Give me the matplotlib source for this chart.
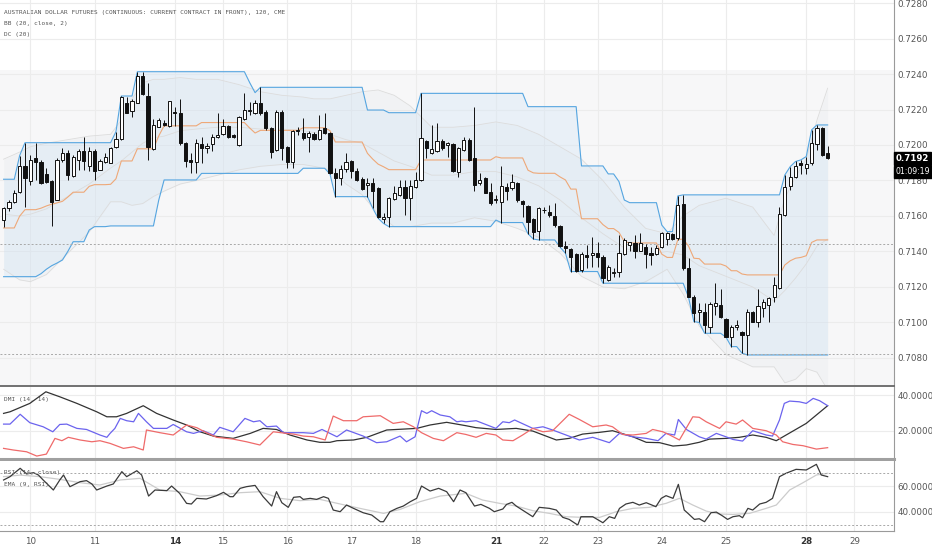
import numpy as np
import matplotlib
matplotlib.use("Agg")
import matplotlib.pyplot as plt
from matplotlib.ticker import FormatStrFormatter
import matplotlib.transforms as mtransforms

# ---- candles (120 min bars) ----
opens = [.71578, .71643, .71681, .71737, .71882, .71799, .71925, .71906, .71837, .71797,
         .71690, .71916, .71957, .71825, .71916, .71968, .71882, .71968, .71859, .71906,
         .71901, .71991, .72032, .72239, .72194, .72235, .72389, .72276, .71976, .72103,
         .72126, .72107, .72188, .72182, .72013, .71916, .71906, .72006, .71981, .72006,
         .72043, .72062, .72107, .72055, .72000, .72145, .72194, .72179, .72239, .72188,
         .72094, .71972, .72188, .71987, .71906, .72081, .72066, .72043, .72062, .72032,
         .72094, .72066, .71840, .71812, .71863, .71912, .71855, .71806, .71774, .71784,
         .71756, .71581, .71592, .71694, .71718, .71765, .71699, .71761, .71803, .72024,
         .71953, .71968, .72024, .72000, .72005, .71850, .71972, .72028, .71925, .71784,
         .71812, .71737, .71690, .71681, .71765, .71756, .71784, .71685, .71656, .71581,
         .71518, .71634, .71625, .71600, .71544, .71431, .71412, .71386, .71296, .71382,
         .71382, .71390, .71371, .71240, .71278, .71287, .71386, .71437, .71450, .71405,
         .71424, .71394, .71386, .71428, .71469, .71499, .71475, .71668, .71306, .71146,
         .71061, .71061, .70977, .71090, .71099, .71019, .70917, .70977, .70945, .70930,
         .71058, .71005, .71080, .71099, .71146, .71193, .71606, .71769, .71822, .71897,
         .71869, .71897, .72006, .72094, .71954]
highs = [.71653, .71690, .71745, .71940, .72013, .71944, .72010, .71916, .71869, .71803,
         .71925, .71981, .71972, .71944, .71976, .72043, .71991, .71976, .71919, .71953,
         .71987, .72075, .72276, .72272, .72257, .72413, .72413, .72351, .72145, .72150,
         .72141, .72250, .72212, .72257, .72019, .71953, .72032, .72043, .72010, .72062,
         .72179, .72145, .72113, .72062, .72163, .72295, .72244, .72254, .72325, .72197,
         .72103, .72197, .72197, .71994, .72085, .72103, .72150, .72081, .72075, .72169,
         .72182, .72075, .71868, .71887, .71953, .71915, .71868, .71818, .71812, .71812,
         .71761, .71619, .71709, .71769, .71803, .71803, .71803, .71850, .72291, .72028,
         .72112, .72122, .72032, .72019, .72013, .71990, .72043, .72040, .72216, .71841,
         .71822, .71784, .71718, .71882, .71784, .71837, .71794, .71690, .71662, .71587,
         .71649, .71653, .71662, .71675, .71549, .71461, .71418, .71390, .71399, .71437,
         .71484, .71456, .71380, .71324, .71306, .71493, .71475, .71456, .71493, .71503,
         .71443, .71428, .71437, .71512, .71512, .71503, .71713, .71719, .71362, .71155,
         .71108, .71108, .71118, .71221, .71187, .71024, .70986, .71015, .70954, .71075,
         .71067, .71187, .71131, .71146, .71259, .71653, .71831, .71878, .71907, .71916,
         .71935, .72085, .72113, .72100, .71995]
lows = [.71540, .71630, .71675, .71730, .71653, .71775, .71803, .71781, .71784, .71544,
        .71690, .71906, .71803, .71822, .71859, .71859, .71856, .71803, .71859, .71897,
        .71897, .71981, .72028, .72179, .72156, .72235, .72282, .71916, .71972, .72100,
        .72107, .72103, .72107, .72000, .71874, .71840, .71840, .71897, .71953, .71968,
        .72038, .72056, .72038, .72038, .71994, .72141, .72169, .72175, .72169, .72085,
        .71925, .71968, .71916, .71869, .71869, .72056, .72028, .71963, .72028, .72028,
        .72062, .71836, .71709, .71774, .71850, .71812, .71799, .71746, .71709, .71643,
        .71587, .71558, .71540, .71690, .71712, .71605, .71577, .71756, .71799, .71925,
        .71949, .71962, .71972, .71934, .71850, .71821, .71968, .71910, .71743, .71775,
        .71728, .71662, .71675, .71563, .71690, .71747, .71681, .71596, .71500, .71470,
        .71465, .71615, .71596, .71540, .71424, .71390, .71287, .71287, .71287, .71305,
        .71315, .71315, .71221, .71231, .71259, .71259, .71381, .71400, .71362, .71400,
        .71306, .71324, .71381, .71418, .71437, .71465, .71465, .71296, .71142, .71005,
        .71000, .70939, .70939, .71043, .71024, .70917, .70864, .70958, .70827, .70817,
        .71000, .70977, .71033, .71005, .71118, .71187, .71600, .71747, .71813, .71837,
        .71837, .71888, .71972, .71938, .71920]
closes = [.71643, .71681, .71732, .71882, .71812, .71916, .71906, .71784, .71794, .71681,
          .71916, .71953, .71831, .71931, .71968, .71912, .71968, .71856, .71912, .71934,
          .71981, .72036, .72269, .72182, .72250, .72389, .72287, .71991, .72113, .72141,
          .72113, .72250, .72182, .72013, .71912, .71906, .72010, .71981, .71994, .72043,
          .72055, .72107, .72043, .72043, .72156, .72197, .72197, .72239, .72179, .72094,
          .71963, .72188, .71981, .71906, .72081, .72085, .72038, .72066, .72032, .72084,
          .72066, .71840, .71812, .71863, .71906, .71855, .71803, .71750, .71784, .71742,
          .71592, .71596, .71699, .71727, .71765, .71699, .71769, .71803, .72037, .71981,
          .71975, .72024, .71981, .72009, .71855, .71981, .72028, .71916, .71775, .71803,
          .71732, .71672, .71694, .71769, .71743, .71794, .71690, .71666, .71568, .71512,
          .71643, .71636, .71606, .71549, .71431, .71418, .71371, .71292, .71386, .71371,
          .71394, .71371, .71249, .71315, .71287, .71390, .71465, .71456, .71400, .71446,
          .71386, .71381, .71418, .71503, .71503, .71469, .71662, .71306, .71146, .71052,
          .71071, .70986, .71105, .71112, .71033, .70920, .70977, .70986, .70930, .71061,
          .71005, .71090, .71118, .71137, .71212, .71612, .71766, .71822, .71884, .71888,
          .71893, .72010, .72094, .71944, .71925]

# ---- Donchian channel (20), read as level / bar-count runs ----
dc_up_levels = [.71807, .71940, .72013, .72075, .72276, .72413, .72351, .72295, .72325, .72197,
                .72182, .72291, .72216, .71882, .71837, .71794, .71690, .71675, .71549, .71512,
                .71713, .71719, .71831, .71878, .71907, .71916, .71935, .72085, .72113]
dc_up_runs = [3, 1, 17, 1, 3, 21, 1, 1, 20, 4, 6, 20, 10, 5, 2, 1, 1, 6, 1, 2, 1, 19, 1, 1, 1, 1, 1, 1, 3]
dc_lo_levels = [.71258, .71275, .71300, .71320, .71335, .71352, .71400, .71455, .71521, .71540,
                .71544, .71690, .71803, .71840, .71869, .71836, .71709, .71643, .71587, .71558,
                .71540, .71577, .71563, .71500, .71470, .71465, .71424, .71390, .71287, .71221,
                .71142, .71005, .71000, .70939, .70917, .70864, .70827, .70817]
dc_lo_runs = [7, 1, 1, 1, 1, 1, 1, 3, 1, 3, 9, 1, 7, 19, 5, 1, 7, 1, 1, 1,
              20, 1, 5, 1, 1, 4, 1, 1, 6, 16, 1, 1, 1, 4, 1, 2, 1, 16]

# ---- Bollinger bands (20, close, 2), sampled ----
bb_x = [0, 3, 5, 8, 12, 16, 20, 22, 24, 26, 28, 30, 33, 36, 40, 44, 48, 52, 56, 58,
        61, 64, 67, 70, 73, 76, 80, 84, 88, 92, 96, 100, 104, 108, 112, 116, 120, 124, 127, 130,
        135, 140, 144, 146, 148, 150, 152, 154]
bb_upper = [.7192, .7196, .7199, .7201, .7203, .7205, .7206, .7214, .7226, .7235,
            .7237, .7237, .7238, .7237, .7237, .7234, .7230, .7228, .7227, .7226,
            .7226, .7228, .7230, .7231, .7228, .7222, .7210, .7210, .7211, .7213,
            .7211, .7206, .7199, .7192, .7180, .7165, .7153, .7150, .7160, .7166,
            .7170, .7165, .7149, .7170, .7182, .7192, .7214, .7232]
bb_mid = [.7161, .7160, .7161, .7164, .7171, .7178, .7187, .7191, .7196, .7201,
          .7204, .7205, .7208, .7209, .7210, .7210, .7209, .7209, .7208, .7207,
          .7206, .7203, .7201, .7196, .7191, .7188, .7183, .7183, .7185, .7185,
          .7182, .7177, .7169, .7159, .7150, .7142, .7138, .7140, .7138, .7132,
          .7126, .7120, .7112, .7118, .7125, .7133, .7143, .7147]
bb_lower = [.7130, .7124, .7123, .7127, .7139, .7151, .7168, .7168, .7166, .7167,
            .7171, .7174, .7178, .7180, .7183, .7186, .7188, .7189, .7189, .7188,
            .7186, .7178, .7172, .7161, .7154, .7154, .7156, .7156, .7159, .7157,
            .7153, .7148, .7139, .7126, .7120, .7119, .7123, .7130, .7116, .7098,
            .7082, .7075, .7075, .7066, .7068, .7074, .7072, .7062]

# ---- DMI (14, 14) ----
adx_x = [0, 1.2, 4.9, 7.9, 10.5, 13.7, 17.4, 19.3, 21.1, 23.0, 26.1, 28.6, 31.7, 34.2, 36.7,
         39.2, 42.9, 46.1, 48.5, 51.0, 53.5, 56.7, 59.1, 61.0, 62.3, 65.4, 67.9, 71.6, 77.2, 79.7,
         82.8, 86.4, 88.3, 92.0, 95.8, 98.9, 103.3, 105.7, 108.2, 111.4, 113.8, 117.6, 120.1, 122.6,
         125.1, 127.6, 130.0, 131.9, 135.0, 137.5, 140.0, 142.5, 144.4, 150.0, 154.0]
adx = [29.7, 30.6, 35.3, 41.8, 39.0, 35.3, 30.6, 27.8, 27.8, 29.7, 34.0, 29.7, 26.0, 23.2, 19.4,
       17.0, 15.7, 18.5, 21.3, 20.7, 17.6, 14.8, 13.5, 13.5, 14.4, 14.8, 16.3, 20.4, 21.3, 23.2,
       24.7, 22.8, 21.7, 20.7, 21.3, 19.8, 14.8, 15.7, 18.1, 19.1, 20.0, 16.6, 13.5, 13.3,
       11.4, 12.0, 13.5, 15.3, 15.7, 16.3, 17.6, 16.3, 14.4, 24.1, 34.0]
pdi_x = [0, 1.2, 3.1, 4.9, 7.4, 9.2, 10.5, 11.8, 13.7, 15.5, 18.0, 19.3, 19.9, 20.8, 21.8,
         23.0, 24.3, 25.2, 26.7, 28.0, 30.5, 31.7, 34.2, 35.5, 37.3, 39.2, 40.4, 42.9, 45.1, 46.7,
         47.9, 49.2, 51.0, 52.3, 54.2, 56.0, 57.9, 59.5, 61.0, 62.3, 64.1, 67.2, 69.7, 71.6, 74.1,
         75.3, 76.9, 78.1, 79.1, 80.0, 81.6, 83.4, 84.7, 85.6, 86.4, 88.3, 92.0, 93.3, 94.5, 95.5,
         98.9, 100.8, 102.6, 105.1, 107.6, 110.1, 113.2, 115.1, 117.6, 120.1, 122.3, 123.8, 125.4,
         126.1, 127.6, 130.0, 131.3, 133.2, 135.0, 136.3, 138.1, 140.0, 142.5, 143.7, 145.0, 145.9,
         146.9, 148.7, 150.0, 151.3, 152.5, 154.0]
pdi = [23.7, 23.7, 29.2, 24.5, 22.2, 19.4, 23.5, 23.7, 21.3, 20.7, 17.6, 16.3, 18.5, 21.3, 26.9,
       25.6, 25.0, 29.7, 25.0, 21.3, 21.3, 23.5, 19.4, 18.5, 20.0, 17.6, 21.9, 19.4, 26.9, 25.0,
       25.6, 22.2, 22.6, 18.9, 18.9, 18.9, 18.5, 20.7, 18.5, 16.6, 20.4, 17.0, 13.3, 13.8, 17.0,
       13.8, 16.6, 31.2, 29.7, 31.2, 28.8, 27.8, 25.0, 25.4, 25.0, 25.6, 21.3, 25.0, 24.5, 26.0,
       21.3, 22.2, 20.4, 17.6, 14.8, 16.3, 13.3, 18.5, 16.6, 15.7, 14.4, 18.5, 17.6,
       26.3, 20.7, 16.6, 15.3, 18.5, 16.6, 15.1, 14.2, 20.0, 17.6, 17.0, 26.0, 35.3,
       36.6, 36.2, 35.3, 38.1, 36.8, 34.0]
mdi_x = [0, 1.8, 4.3, 6.2, 8.0, 9.6, 10.9, 12.1, 14.3, 16.5, 18.0, 19.9, 22.4, 24.3, 26.1,
         26.7, 29.2, 31.7, 34.2, 36.1, 37.9, 39.8, 42.9, 45.4, 47.9, 50.4, 52.9, 54.2, 56.0, 57.9,
         60.1, 61.6, 63.5, 66.0, 67.2, 70.4, 72.8, 74.7, 76.6, 78.1, 80.3, 82.2, 84.7, 86.4, 88.3,
         90.2, 92.0, 93.3, 95.2, 97.0, 98.9, 100.8, 102.6, 104.5, 105.7, 107.6, 110.1, 112.6, 113.8,
         115.7, 117.6, 120.1, 121.3, 123.2, 124.5, 126.3, 128.8, 130.0, 131.3, 133.8, 135.0, 136.9,
         138.1, 140.0, 142.5, 144.4, 145.6, 147.5, 149.4, 151.9, 154.0]
mdi = [10.1, 9.2, 8.2, 5.8, 6.9, 15.7, 14.4, 16.3, 14.8, 13.8, 14.4, 12.9, 10.1, 11.0, 9.2,
       20.4, 18.9, 17.6, 23.2, 21.7, 18.9, 16.3, 15.3, 13.8, 12.0, 19.4, 18.5, 18.1, 17.0, 16.6,
       14.8, 28.2, 25.6, 25.6, 27.8, 28.4, 24.1, 25.0, 22.2, 18.9, 15.7, 14.4, 18.9, 17.9, 16.3,
       18.5, 17.6, 14.8, 14.4, 17.6, 21.3, 19.4, 20.0, 25.6, 29.2, 26.3, 22.2, 23.2, 22.2,
       17.9, 17.6, 18.5, 20.7, 19.4, 17.6, 14.8, 27.8, 27.5, 25.0, 21.3, 25.0, 23.7,
       26.0, 21.3, 20.0, 17.6, 13.8, 12.3, 11.6, 9.7, 10.5]

# ---- RSI (14, close) and EMA (9, RSI) ----
rsi_x = [0, 1.2, 3.1, 4.3, 5.6, 6.5, 7.4, 9.3, 10.5, 11.2, 12.4, 14.3, 15.5, 16.5, 17.4,
         19.3, 20.5, 22.1, 23.0, 24.9, 25.8, 27.1, 28.3, 30.5, 31.4, 32.9, 34.2, 35.1, 36.1, 37.9,
         39.8, 41.1, 42.3, 42.9, 44.2, 45.4, 47.0, 48.5, 50.1, 51.0, 52.0, 53.2, 54.2, 55.4, 56.0,
         57.3, 58.5, 59.8, 60.7, 61.6, 62.9, 64.1, 65.4, 67.2, 68.8, 70.4, 71.0, 72.2, 73.5, 74.7,
         76.0, 77.2, 78.1, 79.7, 81.3, 82.8, 84.1, 85.3, 86.4, 88.0, 89.2, 90.8, 91.7, 93.3, 94.0,
         95.0, 95.8, 98.9, 100.1, 102.0, 103.3, 104.5, 105.7, 107.3, 107.9, 110.1, 112.0, 113.2,
         114.2, 115.1, 116.3, 117.6, 118.8, 120.1, 121.9, 122.9, 123.8, 125.1, 126.1, 127.2, 127.9,
         129.1, 130.0, 131.0, 132.2, 133.2, 134.4, 135.3, 136.3, 137.5, 138.1, 139.1, 140.0, 141.3,
         142.5, 143.7, 145.0, 146.2, 148.1, 150.0, 151.9, 152.8, 154.0]
rsi = [64.7, 67.3, 73.8, 69.4, 70.4, 68.6, 64.7, 56.9, 64.7, 68.6, 59.5, 63.4, 64.2, 61.6, 56.9,
       60.0, 61.6, 71.2, 67.3, 71.9, 68.6, 52.2, 56.9, 56.4, 60.0, 54.3, 46.5, 46.0, 50.4, 49.9,
       52.5, 55.1, 51.7, 51.7, 58.2, 59.5, 60.5, 51.7, 44.4, 55.6, 47.0, 43.4, 51.2, 51.7, 49.6,
       50.4, 49.6, 51.7, 50.4, 41.3, 40.0, 45.2, 42.6, 39.2, 37.4, 32.2, 32.2, 40.0, 42.6, 44.4,
       47.8, 50.4, 60.0, 56.1, 58.2, 55.6, 47.8, 56.9, 54.8, 44.4, 45.7, 42.6, 40.0, 42.1, 45.7,
       47.3, 44.4, 36.1, 43.4, 42.6, 41.3, 35.6, 34.0, 29.6, 36.1, 36.1, 31.4, 36.1,
       34.8, 42.6, 46.0, 47.3, 45.2, 47.0, 43.9, 50.4, 52.5, 50.4, 61.3, 41.3, 38.7,
       34.0, 34.5, 32.2, 39.2, 39.7, 36.6, 34.0, 36.1, 36.9, 35.3, 42.6, 41.3, 46.0,
       47.3, 50.4, 67.3, 69.9, 73.0, 72.5, 76.9, 68.6, 67.3]
ema_x = [0, 3.1, 6.8, 10.5, 14.3, 18.0, 21.8, 25.5, 29.2, 32.9, 36.7, 40.4, 44.2, 47.9, 51.7,
         55.4, 59.1, 62.9, 66.6, 71.0, 74.1, 77.8, 81.6, 86.4, 89.5, 92.7, 95.8, 98.9, 102.0, 105.1,
         108.2, 111.4, 114.5, 117.6, 120.7, 123.8, 126.3, 128.8, 131.3, 133.8, 136.3, 139.4, 142.5,
         144.4, 146.9, 149.4, 151.9, 154.0]
ema = [67.3, 68.5, 67.3, 65.2, 62.6, 60.8, 64.7, 66.0, 56.9, 55.6, 52.2, 53.0, 54.8, 55.6, 50.4,
       48.6, 49.6, 46.0, 42.6, 38.7, 41.8, 47.8, 52.2, 54.3, 49.1, 46.5, 44.4, 40.8, 38.7, 36.1,
       35.6, 35.6, 40.0, 42.6, 43.4, 46.5, 50.4, 45.2, 40.5, 38.2, 37.9, 38.7, 42.6,
       45.2, 56.9, 62.6, 68.6, 69.9]

day_labels = ["10", "11", "14", "15", "16", "17", "18", "21", "22", "23", "24", "25", "28", "29"]
day_pos = [5, 17, 32, 41, 53, 65, 77, 92, 101, 111, 123, 135, 150, 159]
bold_days = ["14", "21", "28"]
price_ticks = [0.7080, 0.7100, 0.7120, 0.7140, 0.7160, 0.7180, 0.7200, 0.7220, 0.7240, 0.7260, 0.7280]
dotted_levels = [0.71440, 0.70822]
last_price = 0.71925

TXT = "#555555"
GRID = "#ececec"

fig = plt.figure(figsize=(9.32, 5.5), dpi=100)
ax = fig.add_axes([0, 0.29818, 0.95923, 0.70182])
ax_dmi = fig.add_axes([0, 0.16545, 0.95923, 0.13145], sharex=ax)
ax_rsi = fig.add_axes([0, 0.03509, 0.95923, 0.12673], sharex=ax)

o = np.array(opens); h = np.array(highs); l = np.array(lows); c = np.array(closes)
idx = np.arange(len(o))

# background band + grid
ax.axhspan(0.7060, 0.72425, color="#f7f7f8", zorder=0, lw=0)
for a in (ax, ax_dmi, ax_rsi):
    for p in day_pos:
        a.axvline(p, color=GRID, lw=0.8, zorder=0.5)
for p in price_ticks:
    ax.axhline(p, color=GRID, lw=0.8, zorder=0.5)

# Bollinger
ax.fill_between(bb_x, bb_lower, bb_upper, color="#b0bec5", alpha=0.07, lw=0, zorder=1)
for s in (bb_upper, bb_mid, bb_lower):
    ax.plot(bb_x, s, color="#dcdcdc", lw=0.6, zorder=2)

# Donchian
dc_up = np.repeat(dc_up_levels, dc_up_runs)
dc_lo = np.repeat(dc_lo_levels, dc_lo_runs)
dc_mid = (dc_up + dc_lo) / 2
ax.fill_between(idx, dc_lo, dc_up, color="#d3e5f6", alpha=0.38, lw=0, zorder=1.5)
ax.plot(idx, dc_up, color="#55a5e0", lw=0.8, zorder=3)
ax.plot(idx, dc_lo, color="#55a5e0", lw=0.8, zorder=3)
ax.plot(idx, dc_mid, color="#eea878", lw=0.8, zorder=3)

for lv in dotted_levels:
    ax.axhline(lv, color="#a8a8a8", lw=0.7, ls=(0, (2, 2)), zorder=3)

# candles
up = c >= o
blo = np.minimum(o, c)
bh = np.maximum(np.abs(c - o), 0.00002)
ax.vlines(idx, l, h, color="#111111", lw=0.7, zorder=5)
ax.bar(idx[up], bh[up], bottom=blo[up], width=0.6, color="white", edgecolor="#111111",
       linewidth=0.7, zorder=6)
ax.bar(idx[~up], bh[~up], bottom=blo[~up], width=0.6, color="#111111", edgecolor="#111111",
       linewidth=0.7, zorder=6)

ax.set_xlim(-0.67, 166.4)
ax.set_ylim(0.70642, 0.72817)

# DMI
ax_dmi.plot(adx_x, adx, color="#333333", lw=0.9)
ax_dmi.plot(pdi_x, pdi, color="#6b63ee", lw=0.9)
ax_dmi.plot(mdi_x, mdi, color="#ef6a6a", lw=0.9)
ax_dmi.set_ylim(4.15, 44.65)
for v in (20, 40):
    ax_dmi.axhline(v, color=GRID, lw=0.8, zorder=0.5)

# RSI
ax_rsi.plot(ema_x, ema, color="#cccccc", lw=0.9)
ax_rsi.plot(rsi_x, rsi, color="#3a3a3a", lw=0.9)
for v in (70, 30):
    ax_rsi.axhline(v, color="#a8a8a8", lw=0.7, ls=(0, (2, 2)))
for v in (40, 60):
    ax_rsi.axhline(v, color=GRID, lw=0.8, zorder=0.5)
ax_rsi.set_ylim(25.2, 79.5)

# axes styling
for a in (ax, ax_dmi, ax_rsi):
    a.set_facecolor("white")
    a.spines["left"].set_visible(False)
    a.spines["top"].set_visible(False)
    a.spines["right"].set_color("#9a9a9a")
    a.spines["right"].set_linewidth(0.8)
    a.yaxis.tick_right()
    a.tick_params(axis="y", length=0, pad=2.5, labelsize=6.3, labelcolor=TXT)
    a.yaxis.set_major_formatter(FormatStrFormatter("%.4f"))
ax.spines["bottom"].set_color("#666666"); ax.spines["bottom"].set_linewidth(1.3)
ax_dmi.spines["bottom"].set_color("#a0a0a0"); ax_dmi.spines["bottom"].set_linewidth(2.2)
ax_rsi.spines["bottom"].set_color("#9a9a9a"); ax_rsi.spines["bottom"].set_linewidth(0.8)

ax.set_yticks(price_ticks)
ax_dmi.set_yticks([20, 40])
ax_rsi.set_yticks([40, 60])

ax.tick_params(axis="x", bottom=False, labelbottom=False)
ax_dmi.tick_params(axis="x", bottom=False, labelbottom=False)
ax_rsi.set_xticks(day_pos)
ax_rsi.set_xticklabels(day_labels)
ax_rsi.tick_params(axis="x", length=0, pad=4.5, labelsize=6.3, labelcolor=TXT)
for t in ax_rsi.get_xticklabels():
    if t.get_text() in bold_days:
        t.set_fontweight("bold")
        t.set_color("#333333")

# last price / countdown boxes
tr = mtransforms.blended_transform_factory(ax.transAxes, ax.transData)
ax.text(1.002, last_price, "0.7192", transform=tr, ha="left", va="center", fontsize=6.2,
        fontweight="bold", color="white", zorder=10,
        bbox=dict(boxstyle="square,pad=0.22", fc="#000000", ec="#000000"))
ax.text(1.002, 0.71848, "01:09:19", transform=tr, ha="left", va="center", fontsize=5.6,
        color="white", zorder=10,
        bbox=dict(boxstyle="square,pad=0.2", fc="#000000", ec="#000000"))

# legends text
mono = dict(family="DejaVu Sans Mono", fontsize=4.45, color=TXT, va="center", ha="left")
fig.text(4 / 932, 1 - 12.7 / 550,
         "AUSTRALIAN DOLLAR FUTURES (CONTINUOUS: CURRENT CONTRACT IN FRONT), 120, CME", **mono)
fig.text(4 / 932, 1 - 24 / 550, "BB (20, close, 2)", **mono)
fig.text(4 / 932, 1 - 34.7 / 550, "DC (20)", **mono)
fig.text(4 / 932, 1 - 400 / 550, "DMI (14, 14)", **mono)
fig.text(4 / 932, 1 - 472.7 / 550, "RSI (14, close)", **mono)
fig.text(4 / 932, 1 - 484.3 / 550, "EMA (9, RSI)", **mono)

fig.savefig("out.png", dpi=100, facecolor="white")
